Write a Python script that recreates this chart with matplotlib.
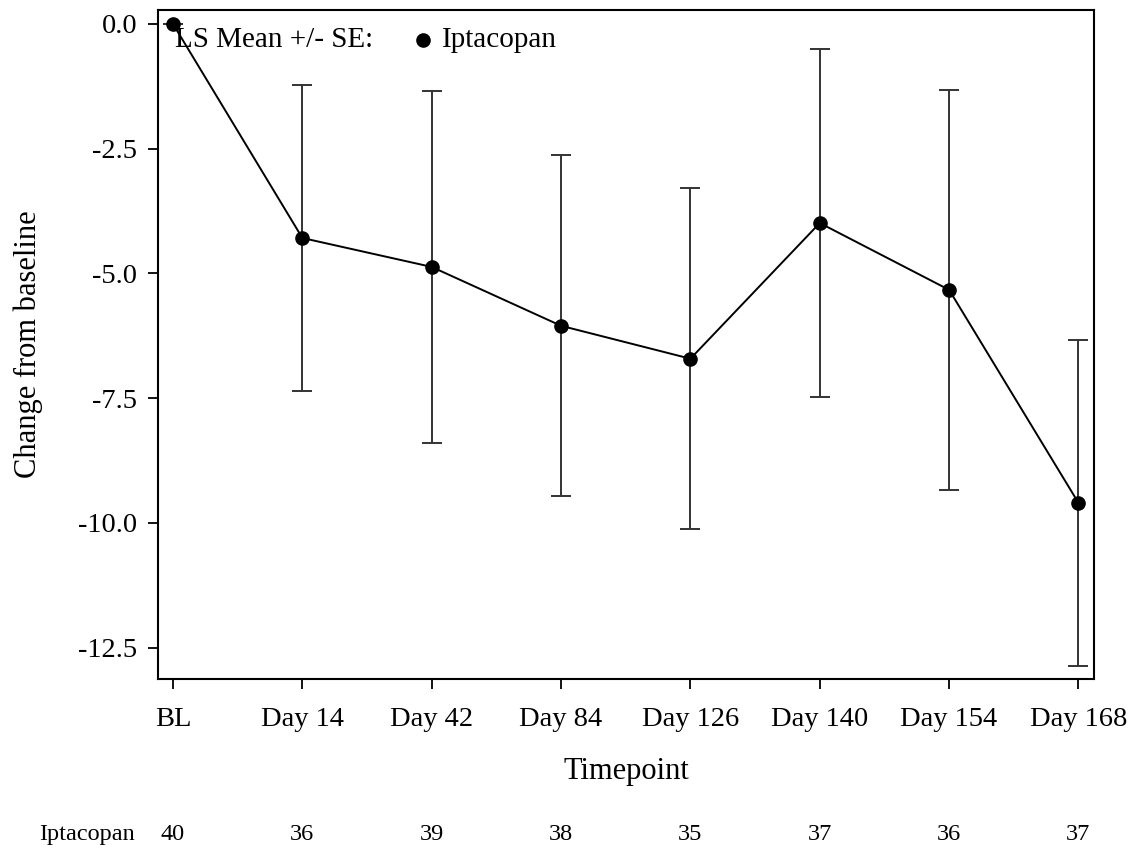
import numpy as np
import matplotlib.pyplot as plt

plt.rcParams['font.family'] = ['Liberation Serif', 'DejaVu Serif']
plt.rcParams['axes.unicode_minus'] = False

timepoints = ["BL", "Day 14", "Day 42", "Day 84", "Day 126", "Day 140", "Day 154", "Day 168"]
ls_mean = [0.0, -4.29, -4.87, -6.05, -6.71, -3.99, -5.33, -9.60]
se = [0.0, 3.07, 3.53, 3.42, 3.42, 3.49, 4.01, 3.26]
n_iptacopan = [40, 36, 39, 38, 35, 37, 36, 37]

x = np.arange(len(timepoints))

fig = plt.figure(figsize=(11.38, 8.5), dpi=100)
ax = fig.add_axes([158/1138, 1 - 679/850, (1094-158)/1138, (679-10)/850])

ax.errorbar(x, ls_mean, yerr=se, fmt='none', ecolor='#333333', elinewidth=1.4,
            capsize=7, capthick=1.4, zorder=2)
ax.plot(x, ls_mean, color='black', linewidth=1.4, marker='o', markersize=9.5, zorder=3)

ax.set_xlim(-0.116, 7.12)
ax.set_ylim(-13.13, 0.28)
ax.set_xticks(x)
ax.set_xticklabels(timepoints)
ax.set_yticks([0.0, -2.5, -5.0, -7.5, -10.0, -12.5])
ax.set_yticklabels(["0.0", "-2.5", "-5.0", "-7.5", "-10.0", "-12.5"])
ax.tick_params(labelsize=20.5, length=7, width=1.3)
ax.tick_params(axis='y', pad=8)
ax.tick_params(axis='x', pad=13)
for s in ax.spines.values():
    s.set_linewidth(1.5)

ax.set_xlabel("Timepoint", fontsize=22, va='center')
ax.xaxis.set_label_coords(0.5, -0.138)
ax.set_ylabel("Change from baseline", fontsize=22, va='center')
ax.yaxis.set_label_coords(-0.139, 0.5)

# legend row
ax.text(0.018, 0.955, "LS Mean +/- SE:", transform=ax.transAxes, fontsize=21, va='center')
ax.plot([0.283], [0.955], transform=ax.transAxes, marker='o', color='black',
        markersize=9.5, clip_on=False)
ax.text(0.303, 0.955, "Iptacopan", transform=ax.transAxes, fontsize=21, va='center')

# numbers at risk
trans = ax.get_xaxis_transform()
ax.text(-0.0245, -0.232, "Iptacopan", transform=ax.transAxes, fontsize=17.5, ha='right', va='center')
for xi, n in zip(x, n_iptacopan):
    ax.text(xi, -0.232, str(n), transform=trans, fontsize=17.5, ha='center', va='center')

fig.savefig("out.png", dpi=100)
